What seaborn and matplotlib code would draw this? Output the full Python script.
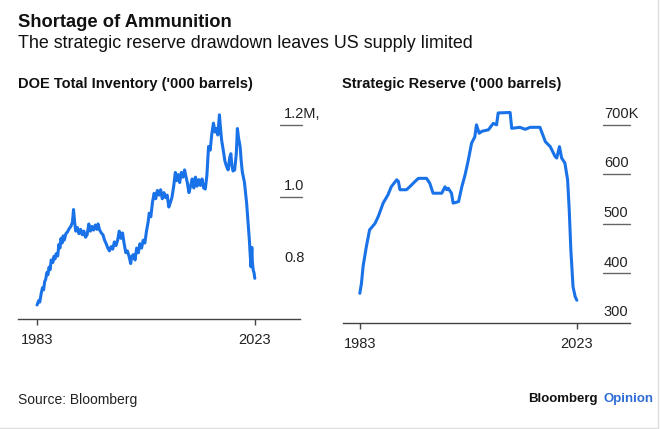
import numpy as np
import pandas as pd
import matplotlib.pyplot as plt
import seaborn as sns
from matplotlib.lines import Line2D

# DOE total inventory, million barrels
doe_year = [1983.0, 1983.3, 1983.5, 1983.8, 1984.0, 1984.2, 1984.4, 1984.6, 1984.8, 1985.0,
            1985.2, 1985.4, 1985.6, 1985.9, 1986.1, 1986.3, 1986.5, 1986.8, 1987.0, 1987.2,
            1987.4, 1987.6, 1987.8, 1988.0, 1988.3, 1988.6, 1988.9, 1989.2, 1989.5, 1989.7,
            1989.9, 1990.1, 1990.4, 1990.7, 1991.0, 1991.3, 1991.6, 1991.9, 1992.2, 1992.5,
            1992.8, 1993.1, 1993.4, 1993.7, 1994.0, 1994.2, 1994.5, 1994.8, 1995.1, 1995.4,
            1995.7, 1996.0, 1996.3, 1996.6, 1996.9, 1997.2, 1997.5, 1997.8, 1998.1, 1998.4,
            1998.7, 1999.0, 1999.3, 1999.6, 1999.9, 2000.2, 2000.4, 2000.7, 2001.0, 2001.3,
            2001.6, 2001.9, 2002.2, 2002.5, 2002.8, 2003.1, 2003.4, 2003.6, 2003.9, 2004.2,
            2004.5, 2004.8, 2005.1, 2005.4, 2005.7, 2006.0, 2006.3, 2006.6, 2006.9, 2007.2,
            2007.5, 2007.8, 2008.1, 2008.4, 2008.6, 2008.9, 2009.2, 2009.5, 2009.8, 2010.1,
            2010.3, 2010.6, 2010.9, 2011.2, 2011.5, 2011.8, 2012.1, 2012.4, 2012.7, 2013.0,
            2013.3, 2013.6, 2013.9, 2014.2, 2014.5, 2014.8, 2015.1, 2015.4, 2015.7, 2016.0,
            2016.2, 2016.5, 2016.7, 2016.9, 2017.2, 2017.5, 2017.8, 2018.1, 2018.4, 2018.6,
            2018.8, 2019.0, 2019.3, 2019.6, 2019.8, 2020.0, 2020.3, 2020.5, 2020.7, 2020.9,
            2021.1, 2021.3, 2021.5, 2021.7, 2021.9, 2022.0, 2022.15, 2022.3, 2022.45, 2022.55,
            2022.7, 2022.85, 2023.0]
doe_val = [0.700, 0.712, 0.708, 0.735, 0.748, 0.742, 0.765, 0.772, 0.790, 0.784,
           0.805, 0.798, 0.825, 0.818, 0.835, 0.828, 0.842, 0.836, 0.868, 0.858,
           0.885, 0.872, 0.892, 0.880, 0.898, 0.903, 0.912, 0.918, 0.930, 0.965,
           0.930, 0.905, 0.915, 0.898, 0.910, 0.895, 0.905, 0.888, 0.895, 0.925,
           0.905, 0.918, 0.908, 0.922, 0.910, 0.925, 0.908, 0.900, 0.895, 0.880,
           0.870, 0.858, 0.850, 0.862, 0.855, 0.875, 0.865, 0.880, 0.905, 0.885,
           0.900, 0.870, 0.845, 0.850, 0.835, 0.815, 0.835, 0.840, 0.825, 0.858,
           0.845, 0.870, 0.858, 0.880, 0.872, 0.905, 0.930, 0.955, 0.945, 0.985,
           1.010, 0.995, 1.018, 1.005, 1.020, 0.995, 1.012, 0.998, 1.005, 0.972,
           0.985, 1.000, 1.030, 1.068, 1.045, 1.062, 1.040, 1.068, 1.055, 1.075,
           1.060, 1.040, 1.012, 1.030, 1.050, 1.025, 1.055, 1.030, 1.048, 1.032,
           1.050, 1.025, 1.022, 1.060, 1.140, 1.130, 1.175, 1.205, 1.180, 1.190,
           1.172, 1.228, 1.190, 1.158, 1.130, 1.100, 1.085, 1.075, 1.110, 1.120,
           1.085, 1.072, 1.075, 1.120, 1.190, 1.165, 1.140, 1.100, 1.070, 1.055,
           1.040, 1.010, 0.982, 0.940, 0.900, 0.880, 0.840, 0.806, 0.860, 0.820,
           0.797, 0.790, 0.774]

# Strategic petroleum reserve, thousand barrels (in '000s of '000)
spr_year = [1983.0, 1983.3, 1983.6, 1984.2, 1984.8, 1985.8, 1986.4, 1987.3, 1988.2, 1988.8,
            1989.8, 1990.1, 1990.4, 1991.6, 1992.2, 1993.2, 1993.8, 1995.3, 1995.9, 1996.5,
            1998.1, 1998.7, 1999.0, 1999.3, 1999.9, 2000.2, 2001.2, 2001.8, 2002.4, 2003.0,
            2003.6, 2004.2, 2004.5, 2005.0, 2005.5, 2006.7, 2007.6, 2008.2, 2008.5, 2010.7,
            2011.0, 2012.5, 2013.5, 2014.4, 2016.2, 2017.2, 2018.1, 2019.0, 2019.3, 2019.8,
            2020.2, 2020.8, 2021.3, 2021.6, 2021.9, 2022.3, 2022.7, 2023.0]
spr_val = [360, 380, 414, 454, 488, 501, 515, 542, 559, 575,
           589, 586, 569, 569, 575, 586, 592, 592, 582, 562,
           562, 575, 569, 572, 562, 542, 545, 575, 599, 629,
           663, 676, 700, 683, 687, 690, 703, 700, 724, 725,
           693, 695, 691, 695, 695, 666, 656, 636, 633, 656,
           633, 623, 589, 528, 447, 373, 353, 346]

x_ticks = [1983, 2023]
doe_ticks = [1.2, 1.0, 0.8]
doe_tick_labels = ["1.2M,", "1.0", "0.8"]
spr_ticks = [700, 600, 500, 400, 300]
spr_tick_labels = ["700K", "600", "500", "400", "300"]

doe = pd.DataFrame({"year": doe_year, "value": doe_val})
spr = pd.DataFrame({"year": spr_year, "value": spr_val})

sns.set_style("white")
plt.rcParams["font.family"] = ["Liberation Sans", "DejaVu Sans"]

blue = "#1a72e8"
W, H = 660, 429
fig = plt.figure(figsize=(6.6, 4.29), dpi=100)


def setup(ax, xlim, ylim, ticks, labels, tick_x0, tick_x1, label_x, tick_lines):
    ax.set_xlim(*xlim)
    ax.set_ylim(*ylim)
    for s in ["top", "left", "right"]:
        ax.spines[s].set_visible(False)
    ax.spines["bottom"].set_color("#444444")
    ax.spines["bottom"].set_linewidth(1.0)
    ax.set_yticks([])
    ax.set_xticks(x_ticks)
    ax.set_xticklabels([str(t) for t in x_ticks])
    ax.tick_params(axis="x", direction="out", length=4, width=1, color="#444444",
                   labelsize=10.5, labelcolor="#222222", pad=6, bottom=True)
    ax.set_xlabel("")
    ax.set_ylabel("")
    tr = ax.get_yaxis_transform()
    for t, lab, draw in zip(ticks, labels, tick_lines):
        if draw:
            ax.plot([tick_x0, tick_x1], [t, t], transform=tr, color="#666666",
                    lw=1.0, clip_on=False)
        ax.annotate(lab, xy=(label_x, t), xycoords=tr, xytext=(0, 5),
                    textcoords="offset points", ha="left", va="baseline",
                    fontsize=10.5, color="#222222")


ax1 = fig.add_axes([18 / W, 1 - 319 / H, 282 / W, (319 - 108) / H])
sns.lineplot(data=doe, x="year", y="value", ax=ax1, color=blue, lw=2.2)
setup(ax1, (1979.5, 2031.3), (0.661, 1.247), doe_ticks, doe_tick_labels,
      0.929, 1.007, 0.943, [True, True, False])

ax2 = fig.add_axes([343 / W, 1 - 323 / H, 287 / W, (323 - 108) / H])
sns.lineplot(data=spr, x="year", y="value", ax=ax2, color=blue, lw=2.2)
setup(ax2, (1979.9, 2032.8), (300, 734), spr_ticks, spr_tick_labels,
      0.906, 1.0, 0.909, [True, True, True, True, False])

# titles
fig.text(18 / W, 1 - 27 / H, "Shortage of Ammunition", fontsize=13.2,
         fontweight="bold", color="#111111", va="baseline")
fig.text(18 / W, 1 - 48 / H, "The strategic reserve drawdown leaves US supply limited",
         fontsize=12.9, color="#111111", va="baseline")
fig.text(18 / W, 1 - 88 / H, "DOE Total Inventory ('000 barrels)", fontsize=10.5,
         fontweight="bold", color="#111111", va="baseline")
fig.text(342 / W, 1 - 88 / H, "Strategic Reserve ('000 barrels)", fontsize=10.5,
         fontweight="bold", color="#111111", va="baseline")

# footer
fig.text(18 / W, 1 - 404 / H, "Source: Bloomberg", fontsize=10, color="#222222",
         va="baseline")
fig.text(598 / W, 1 - 402 / H, "Bloomberg", fontsize=9.5, fontweight="bold",
         color="#111111", ha="right", va="baseline")
fig.text(603 / W, 1 - 402 / H, "Opinion", fontsize=9.5, fontweight="bold",
         color="#2d6bd6", ha="left", va="baseline")

# light frame on right and bottom edges
fig.add_artist(Line2D([658 / W, 658 / W], [1 - 428 / H, 1], color="#dddddd", lw=1))
fig.add_artist(Line2D([0, 658 / W], [1 - 428 / H, 1 - 428 / H], color="#dddddd", lw=1))

fig.savefig("out.png", dpi=100)
